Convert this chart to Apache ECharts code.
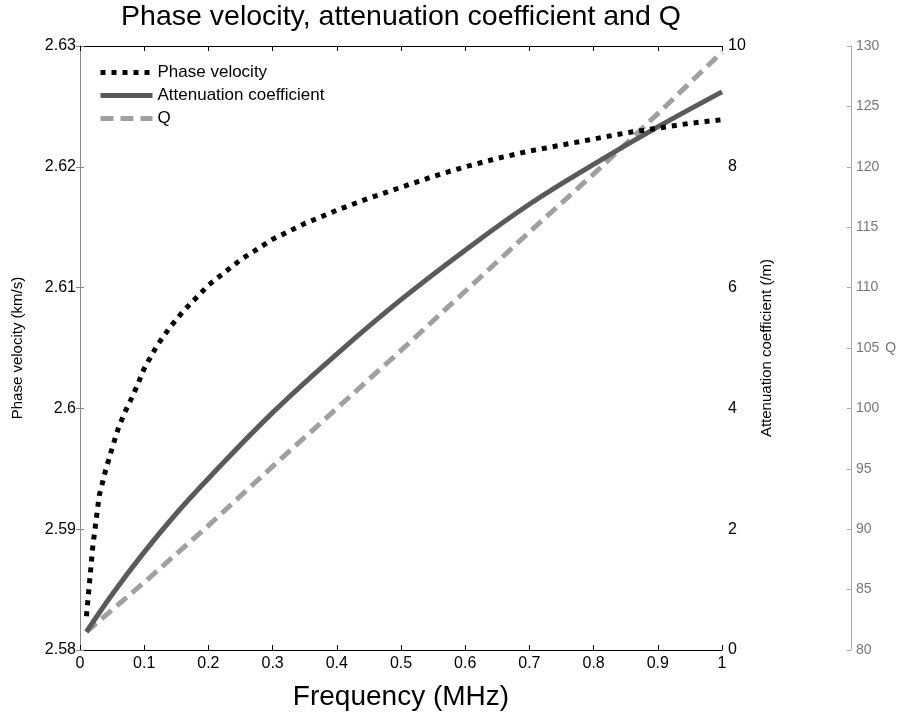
<!DOCTYPE html>
<html><head><meta charset="utf-8">
<script src="https://cdn.jsdelivr.net/npm/echarts@6/dist/echarts.min.js"></script>
<style>html,body{margin:0;padding:0;background:#fff}#chart{width:907px;height:716px}</style>
</head><body><div id="chart"></div>
<script>
const titleText = 'Phase velocity, attenuation coefficient and Q';
const seriesNames = ['Phase velocity', 'Attenuation coefficient', 'Q'];
const freqPV = [0.01,0.02,0.03,0.04,0.05,0.06,0.07,0.08,0.09,0.1,0.12,0.14,0.16,0.18,0.2,0.25,0.3,0.35,0.4,0.45,0.5,0.55,0.6,0.65,0.7,0.75,0.8,0.85,0.9,0.95,1.0];
const phaseVelocity = [2.5828,2.5886,2.5928,2.5949,2.5967,2.5984,2.5997,2.6008,2.6020,2.6033,2.6052,2.6067,2.6080,2.6091,2.6102,2.6123,2.6140,2.6153,2.6164,2.6174,2.6183,2.6192,2.6200,2.6207,2.6213,2.6218,2.6223,2.6228,2.6232,2.6236,2.6239];
const freqAtt = [0.01,0.05,0.1,0.15,0.2,0.3,0.4,0.5,0.6,0.7,0.8,0.9,1.0];
const attenuation = [0.3,0.92,1.62,2.26,2.84,3.93,4.9,5.8,6.62,7.38,8.04,8.66,9.24];
const freqQ = [0.01,0.1,0.2,0.3,0.4,0.5,0.6,0.7,0.8,0.9,1.0];
const qValues = [81.5,85.6,90.3,95.2,100.0,104.8,109.7,114.6,119.4,124.4,129.5];

const font = 'Liberation Sans, Arial, sans-serif';
const chart = echarts.init(document.getElementById('chart'), null, {renderer: 'canvas'});
chart.setOption({
  animation: false,
  backgroundColor: '#fff',
  title: {
    text: titleText, left: 401, top: 3, padding: 0, textAlign: 'center',
    textStyle: {fontFamily: font, fontSize: 28.5, fontWeight: 'normal', color: '#000'}
  },
  legend: {
    orient: 'vertical', left: 98, top: 64, padding: 0,
    itemWidth: 52, itemHeight: 14, itemGap: 6,
    itemStyle: {opacity: 0},
    lineStyle: {width: 5},
    textStyle: {fontFamily: font, fontSize: 17, color: '#000'},
    data: seriesNames
  },
  grid: {left: 80, right: 185, top: 46, bottom: 61, containLabel: false},
  xAxis: [{
    type: 'value', min: 0, max: 1, interval: 0.1, position: 'bottom',
    name: 'Frequency (MHz)', nameLocation: 'middle', nameGap: 33,
    nameTextStyle: {fontFamily: font, fontSize: 28, color: '#000'},
    axisLine: {lineStyle: {color: '#000', width: 1}},
    axisTick: {inside: true, length: 5, lineStyle: {color: '#000'}},
    axisLabel: {fontFamily: font, fontSize: 16, color: '#000', margin: 6},
    splitLine: {show: false}
  }, {
    type: 'value', min: 0, max: 1, interval: 0.1, position: 'top',
    axisLine: {lineStyle: {color: '#000', width: 1}},
    axisTick: {inside: true, length: 5, lineStyle: {color: '#000'}},
    axisLabel: {show: false}, splitLine: {show: false}
  }],
  yAxis: [{
    type: 'value', min: 2.58, max: 2.63, interval: 0.01, position: 'left',
    name: 'Phase velocity (km/s)', nameLocation: 'middle', nameGap: 55, nameRotate: 90,
    nameTextStyle: {fontFamily: font, fontSize: 15, color: '#000'},
    axisLine: {show: true, lineStyle: {color: '#888', width: 1}},
    axisTick: {show: true, inside: true, length: 4, lineStyle: {color: '#888'}},
    axisLabel: {fontFamily: font, fontSize: 16, color: '#000', margin: 4},
    splitLine: {show: false}
  }, {
    type: 'value', min: 0, max: 10, interval: 2, position: 'right',
    name: 'Attenuation coefficient (/m)', nameLocation: 'middle', nameGap: 37, nameRotate: 90,
    nameTextStyle: {fontFamily: font, fontSize: 15, color: '#000'},
    axisLine: {show: true, lineStyle: {color: '#888', width: 1}},
    axisTick: {show: true, inside: true, length: 4, lineStyle: {color: '#888'}},
    axisLabel: {fontFamily: font, fontSize: 16, color: '#000', margin: 6},
    splitLine: {show: false}
  }, {
    type: 'value', min: 80, max: 130, interval: 5, position: 'right', offset: 129,
    name: 'Q', nameLocation: 'middle', nameGap: 34, nameRotate: 0,
    nameTextStyle: {fontFamily: font, fontSize: 14, color: '#777'},
    axisLine: {show: true, lineStyle: {color: '#aaa', width: 1}},
    axisTick: {show: true, inside: true, length: 4, lineStyle: {color: '#aaa'}},
    axisLabel: {fontFamily: font, fontSize: 14, color: '#777', margin: 5},
    splitLine: {show: false}
  }],
  series: [{
    name: seriesNames[0], type: 'line', xAxisIndex: 0, yAxisIndex: 0,
    data: freqPV.map((f, i) => [f, phaseVelocity[i]]),
    symbol: 'none', smooth: false,
    itemStyle: {color: '#000'},
    lineStyle: {color: '#000', width: 5, type: [5, 6], cap: 'butt'},
    z: 4
  }, {
    name: seriesNames[1], type: 'line', xAxisIndex: 0, yAxisIndex: 1,
    data: freqAtt.map((f, i) => [f, attenuation[i]]),
    symbol: 'none', smooth: 0.4,
    itemStyle: {color: '#5a5a5a'},
    lineStyle: {color: '#5a5a5a', width: 5, type: 'solid'},
    z: 3
  }, {
    name: seriesNames[2], type: 'line', xAxisIndex: 0, yAxisIndex: 2,
    data: freqQ.map((f, i) => [f, qValues[i]]),
    symbol: 'none', smooth: false,
    itemStyle: {color: '#a0a0a0'},
    lineStyle: {color: '#a0a0a0', width: 5, type: [13, 7]},
    z: 2
  }]
});
</script></body></html>
